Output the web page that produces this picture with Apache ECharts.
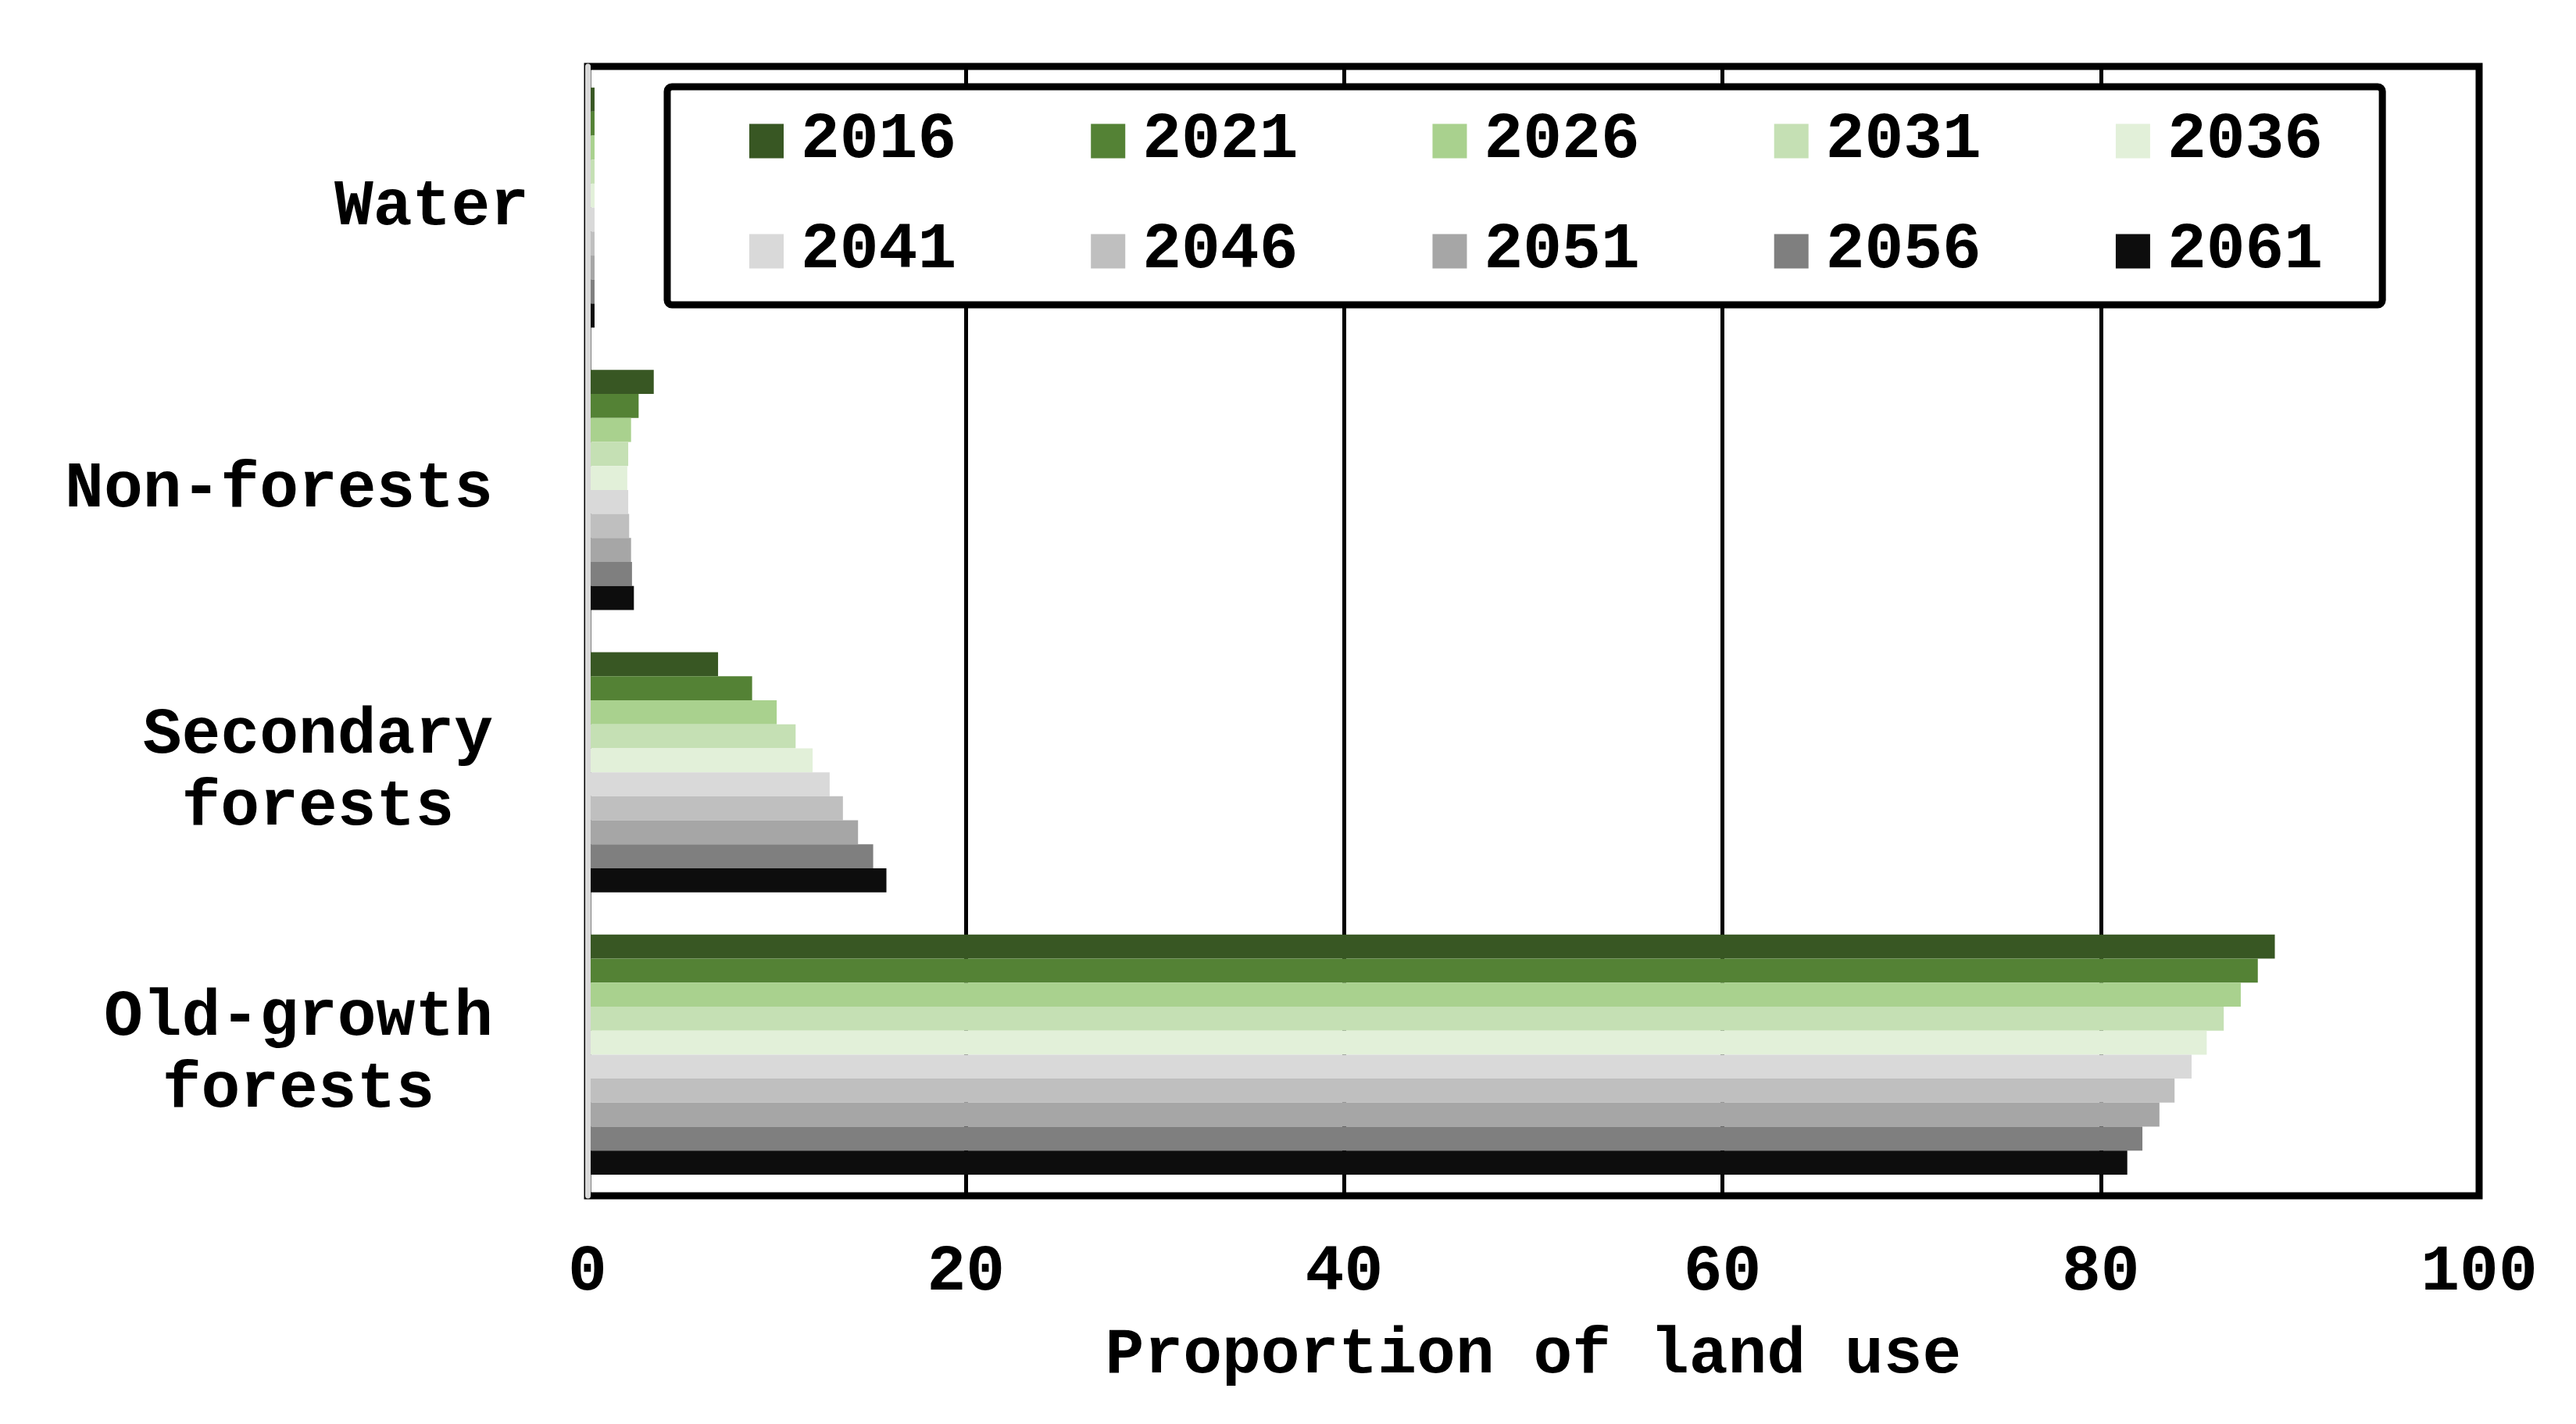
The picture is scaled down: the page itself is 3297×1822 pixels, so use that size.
<!DOCTYPE html>
<html>
<head>
<meta charset="utf-8">
<script src="https://cdn.jsdelivr.net/npm/echarts@6/dist/echarts.min.js"></script>
<style>
  html, body { margin: 0; padding: 0; background: #fff; }
  #chart { width: 3297px; height: 1822px; }
</style>
</head>
<body>
<div id="chart"></div>
<script>
// land use classes, top to bottom
const categories = ['Water', 'Non-forests', 'Secondary forests', 'Old-growth forests'];
const years = ['2016', '2021', '2026', '2031', '2036', '2041', '2046', '2051', '2056', '2061'];
const colors = ['#385723', '#548235', '#a9d18e', '#c5e0b4', '#e2f0d9',
                '#d9d9d9', '#bfbfbf', '#a6a6a6', '#7f7f7f', '#0d0d0d'];

// proportion of land use (%) per year: Water, Non-forests, Secondary, Old-growth
const v2016 = [0.37, 3.5, 6.9, 89.2];
const v2021 = [0.37, 2.7, 8.7, 88.3];
const v2026 = [0.37, 2.3, 10.0, 87.4];
const v2031 = [0.37, 2.15, 11.0, 86.5];
const v2036 = [0.37, 2.1, 11.9, 85.6];
const v2041 = [0.37, 2.15, 12.8, 84.8];
const v2046 = [0.37, 2.2, 13.5, 83.9];
const v2051 = [0.37, 2.3, 14.3, 83.1];
const v2056 = [0.37, 2.35, 15.1, 82.2];
const v2061 = [0.37, 2.45, 15.8, 81.4];
const values = [v2016, v2021, v2026, v2031, v2036, v2041, v2046, v2051, v2056, v2061];

const xTicks = [0, 20, 40, 60, 80, 100];

const FONT = 'Liberation Mono';
const txt = { fontFamily: FONT, fontWeight: 'bold', fontSize: 83, color: '#000' };

const myChart = echarts.init(document.getElementById('chart'));

const series = years.map((y, i) => ({
  name: y,
  type: 'bar',
  data: values[i],
  barGap: '0%',
  barCategoryGap: '15%',
  itemStyle: { color: colors[i] }
}));

const legendCommon = {
  orient: 'horizontal',
  icon: 'rect',
  itemWidth: 44,
  itemHeight: 44,
  itemGap: 172,
  selectedMode: false,
  textStyle: Object.assign({}, txt, { padding: [0, 0, 0, 17] })
};

const option = {
  animation: false,
  backgroundColor: '#fff',
  grid: {
    left: 752,
    right: 124,
    top: 85,
    bottom: 292,
    show: true,
    borderColor: '#000',
    borderWidth: 9
  },
  legend: [
    Object.assign({}, legendCommon, {
      data: years.slice(0, 5),
      left: 854,
      top: 111,
      padding: [28, 76, 168, 105],
      borderColor: '#000',
      borderWidth: 9,
      borderRadius: 6,
      backgroundColor: '#fff'
    }),
    Object.assign({}, legendCommon, {
      data: years.slice(5),
      left: 959,
      top: 280,
      padding: 0
    })
  ],
  xAxis: {
    type: 'value',
    min: xTicks[0],
    max: xTicks[xTicks.length - 1],
    interval: 20,
    name: 'Proportion of land use',
    nameLocation: 'middle',
    nameGap: 164,
    nameTextStyle: txt,
    axisLine: { show: false },
    axisTick: { show: false },
    axisLabel: Object.assign({ margin: 58 }, txt),
    splitLine: { show: true, lineStyle: { color: '#000', width: 5 } }
  },
  yAxis: {
    type: 'category',
    inverse: true,
    data: categories,
    z: 10,
    axisLine: { show: true, lineStyle: { color: '#d9d9d9', width: 7 } },
    axisTick: { show: false },
    splitLine: { show: false },
    axisLabel: {
      margin: 75,
      align: 'right',
      formatter: function (v) {
        if (v === 'Water') return '{w|Water}';
        return v.replace(' ', '\n').split('\n').map(s => '{c|' + s + '}').join('\n');
      },
      rich: {
        w: Object.assign({ lineHeight: 92 }, txt),
        c: Object.assign({ lineHeight: 92, align: 'center', padding: [0, 46, 0, 0] }, txt)
      }
    }
  },
  series: series
};

option && myChart.setOption(option);
</script>
</body>
</html>
